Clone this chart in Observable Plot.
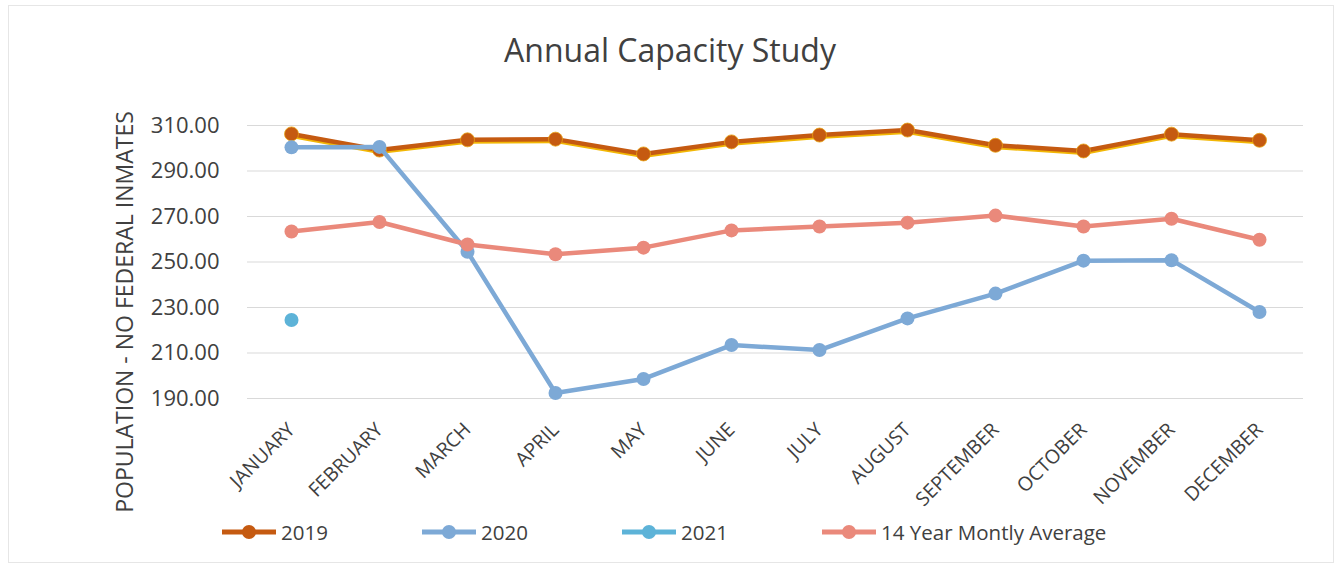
<!DOCTYPE html>
<html>
<head>
<meta charset="utf-8">
<script src="https://cdn.jsdelivr.net/npm/d3@7"></script>
<script src="https://cdn.jsdelivr.net/npm/@observablehq/plot@0.6"></script>
<style>
  html, body { margin: 0; padding: 0; background: #fff; }
  #wrap { position: relative; width: 1340px; height: 570px; font-family: "Open Sans", sans-serif; color: #404040; overflow: hidden; }
  #frame { position: absolute; left: 8px; top: 5px; width: 1326px; height: 558px; border: 1px solid #e6e6e6; box-sizing: border-box; }
  #title { position: absolute; top: 28px; left: 0; width: 1340px; text-align: center; font-size: 32px; color: #404040; line-height: 44px; }
  #chart { position: absolute; top: 90px; left: 0; }
  #ylabel { position: absolute; left: 124px; top: 312px; transform: translate(-50%, -50%) rotate(-90deg); white-space: nowrap; font-size: 23px; color: #404040; }
  #legend { position: absolute; top: 517px; left: 0; width: 1340px; height: 34px; }
  .item { position: absolute; display: flex; align-items: center; font-size: 20.5px; color: #404040; }
  .item svg { margin-right: 3px; }
</style>
</head>
<body>
<div id="wrap">
  <div id="frame"></div>
  <div id="title">Annual Capacity Study</div>
  <div id="chart"></div>
  <div id="ylabel">POPULATION - NO FEDERAL INMATES</div>
  <div id="legend"></div>
</div>
<script>
const months = ["JANUARY","FEBRUARY","MARCH","APRIL","MAY","JUNE","JULY","AUGUST","SEPTEMBER","OCTOBER","NOVEMBER","DECEMBER"];
const v2019 = [306.3, 299.2, 303.7, 304.0, 297.5, 302.8, 305.8, 308.0, 301.3, 298.8, 306.2, 303.5];
const v2020 = [300.4, 300.6, 254.5, 192.4, 198.6, 213.5, 211.3, 225.2, 236.1, 250.6, 250.8, 228.0];
const v2021 = [224.5];
const vAvg  = [263.4, 267.6, 257.7, 253.4, 256.3, 263.9, 265.6, 267.3, 270.4, 265.6, 269.0, 259.8];
const yTicks = [190, 210, 230, 250, 270, 290, 310];
const seriesNames = ["2019", "2020", "2021", "14 Year Montly Average"];
const seriesColors = ["#C55A11", "#7DA9D6", "#5DB3D8", "#EA897B"];

const rows = (vals) => vals.map((v, i) => ({month: months[i], value: v}));
const d2019 = rows(v2019), d2020 = rows(v2020), d2021 = rows(v2021), dAvg = rows(vAvg);

const chart = Plot.plot({
  width: 1340,
  height: 440,
  marginLeft: 247,
  marginRight: 37,
  marginTop: 35,
  marginBottom: 132,
  style: {fontFamily: "Open Sans, sans-serif", color: "#404040", background: "transparent"},
  x: {type: "point", domain: months, padding: 0.5, label: null},
  y: {domain: [190, 310], label: null},
  marks: [
    Plot.ruleY(yTicks, {stroke: "#d9d9d9", strokeWidth: 1}),
    Plot.axisY({ticks: yTicks, tickFormat: d => d.toFixed(2), tickSize: 0, tickPadding: 28, fontSize: 22, label: null}),
    Plot.axisX({tickSize: 0, tickRotate: -45, tickPadding: 28, fontSize: 19.5, label: null}),
    // 2019
    Plot.line(d2019, {x: "month", y: "value", stroke: "#F2B705", strokeWidth: 5, dy: 1.5}),
    Plot.line(d2019, {x: "month", y: "value", stroke: seriesColors[0], strokeWidth: 4.5}),
    Plot.dot(d2019, {x: "month", y: "value", r: 7, fill: seriesColors[0], stroke: "#E9A213", strokeWidth: 0.8}),
    // 2020
    Plot.line(d2020, {x: "month", y: "value", stroke: seriesColors[1], strokeWidth: 4.5}),
    Plot.dot(d2020, {x: "month", y: "value", r: 7, fill: seriesColors[1]}),
    // 2021
    Plot.dot(d2021, {x: "month", y: "value", r: 7, fill: seriesColors[2]}),
    // Avg
    Plot.line(dAvg, {x: "month", y: "value", stroke: seriesColors[3], strokeWidth: 4.5}),
    Plot.dot(dAvg, {x: "month", y: "value", r: 7, fill: seriesColors[3]})
  ]
});
document.getElementById("chart").appendChild(chart);

const legend = document.getElementById("legend");
const lx = [220, 420, 620, 820];
seriesNames.forEach((name, i) => {
  const div = document.createElement("div");
  div.className = "item";
  div.style.left = lx[i] + "px";
  div.style.top = "0px";
  const c = seriesColors[i];
  div.innerHTML = `<svg width="58" height="30"><line x1="2" x2="56" y1="15" y2="15" stroke="${c}" stroke-width="5"/>` +
    `<circle cx="29" cy="15" r="7" fill="${c}"/></svg><span>${name}</span>`;
  legend.appendChild(div);
});
</script>
</body>
</html>
